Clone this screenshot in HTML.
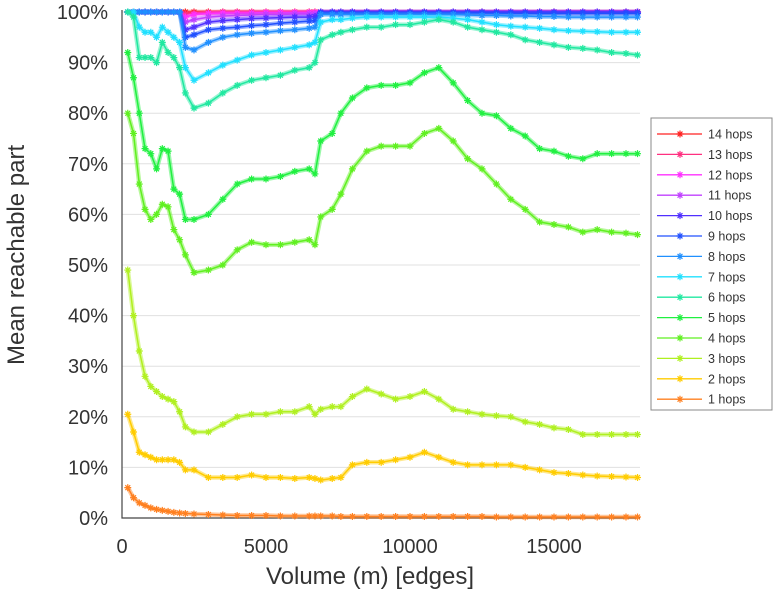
<!DOCTYPE html>
<html><head><meta charset="utf-8"><style>
body{margin:0;background:#fff;}
svg{display:block;font-family:"Liberation Sans",sans-serif;}
</style></head><body>
<svg id="chart" width="775" height="600"></svg>
<script>
const xs=[200,400,600,800,1000,1200,1400,1600,1800,2000,2200,2500,3000,3500,4000,4500,5000,5500,6000,6500,6700,6900,7300,7600,8000,8500,9000,9500,10000,10500,11000,11500,12000,12500,13000,13500,14000,14500,15000,15500,16000,16500,17000,17500,17900];
const s1=[6,4,3,2.5,2,1.7,1.5,1.3,1.1,1,0.9,0.8,0.7,0.6,0.5,0.5,0.5,0.4,0.4,0.4,0.4,0.4,0.4,0.3,0.3,0.3,0.3,0.3,0.3,0.3,0.3,0.3,0.3,0.3,0.2,0.2,0.2,0.2,0.2,0.2,0.2,0.2,0.2,0.2,0.2];
const s2=[20.5,17,13,12.5,12,11.5,11.5,11.5,11.5,11,9.5,9.5,8,8,8,8.5,8,8,7.8,8,7.8,7.5,7.8,8,10.5,11,11,11.5,12,13,12,11,10.5,10.5,10.5,10.5,10,9.5,9,8.8,8.5,8.3,8.2,8.1,8];
const s3=[49,40,33,28,26,25,24,23.5,23,21,18,17,17,18.5,20,20.5,20.5,21,21,22,20.5,21.5,22,22,24,25.5,24.5,23.5,24,25,23.5,21.5,21,20.5,20.2,20,19,18.5,17.8,17.5,16.5,16.5,16.5,16.5,16.5];
const s4=[80,76,66,61,59,60,62,61.5,57,55,52,48.5,49,50,53,54.5,54,54,54.5,55,54,59.5,61,64,69,72.5,73.5,73.5,73.5,76,77,74.5,71,69,66,63,61,58.5,58,57.5,56.5,57,56.5,56.3,56];
const s5=[92,87,80,73,72,69,73,72.5,65,64,59,59,60,63,66,67,67,67.5,68.5,69,68,74.5,76,80,83,85,85.5,85.5,86,88,89,86,82.5,80,79.5,77,75.5,73,72.5,71.5,71,72,72,72,72];
const s6=[100,99,91,91,91,90,94,92,91,89,84,81,82,84,85.5,86.5,87,87.5,88.5,89,90,94.5,95.5,96,96.5,97,97,97.5,97.5,98,98.5,98,97,96.5,96,95.5,94.5,94,93.5,93,92.8,92.5,92,91.8,91.5];
const s7=[100,100,97,96,96,95,97,96,95,94,89,86.5,88,89.5,90.5,91.5,92,92.5,93,93.5,94,98,98.5,98.5,98.8,99,99,99,99,99,99,98.8,98.5,98,97.5,97.2,97,96.8,96.5,96.3,96.2,96.1,96,96,96];
const s8=[100,100,100,100,100,100,100,100,100,100,93,92.5,94,95,95.5,95.8,96,96.3,96.5,96.8,97,99.5,99.5,99.5,99.5,99.5,99.5,99.5,99.5,99.5,99.5,99.5,99.4,99.3,99.3,99.2,99.2,99.1,99.1,99,99,99,99,99,99];
const s9=[100,100,100,100,100,100,100,100,100,100,95,95.5,96.5,96.8,97,97.3,97.5,97.8,98,98.2,98.3,99.8,99.8,99.8,99.8,99.8,99.8,99.8,99.8,99.8,99.8,99.8,99.8,99.8,99.7,99.7,99.7,99.7,99.7,99.7,99.7,99.7,99.7,99.7,99.7];
const s10=[100,100,100,100,100,100,100,100,100,100,96.5,97,98,98.3,98.5,98.7,98.8,98.9,99,99,99.1,100,100,100,100,100,100,100,100,100,100,100,100,100,100,100,100,100,100,100,100,100,100,100,100];
const s11=[100,100,100,100,100,100,100,100,100,100,98,98.5,99,99.2,99.3,99.4,99.5,99.5,99.6,99.6,99.6,100,100,100,100,100,100,100,100,100,100,100,100,100,100,100,100,100,100,100,100,100,100,100,100];
const s12=[100,100,100,100,100,100,100,100,100,100,99,99.5,99.7,99.8,99.8,99.8,99.9,99.9,99.9,99.9,99.9,100,100,100,100,100,100,100,100,100,100,100,100,100,100,100,100,100,100,100,100,100,100,100,100];
const s13=[100,100,100,100,100,100,100,100,100,100,99.6,99.8,99.9,100,100,100,100,100,100,100,100,100,100,100,100,100,100,100,100,100,100,100,100,100,100,100,100,100,100,100,100,100,100,100,100];
const s14=[100,100,100,100,100,100,100,100,100,100,100,100,100,100,100,100,100,100,100,100,100,100,100,100,100,100,100,100,100,100,100,100,100,100,100,100,100,100,100,100,100,100,100,100,100];
const seriesNames=["14 hops","13 hops","12 hops","11 hops","10 hops","9 hops","8 hops","7 hops","6 hops","5 hops","4 hops","3 hops","2 hops","1 hops"];
const seriesVals=[s14,s13,s12,s11,s10,s9,s8,s7,s6,s5,s4,s3,s2,s1];
const colors=["#ff2020","#ff3080","#ff30ff","#c040ff","#5030ff","#2050ff","#2090ff","#20e0ff","#20e8a0","#20f040","#60f020","#b0f020","#ffcc00","#ff8020"];
const yTicks=[0,10,20,30,40,50,60,70,80,90,100];
const xTicks=[0,5000,10000,15000];

const NS="http://www.w3.org/2000/svg";
const svg=document.getElementById('chart');
const X=v=>122+v*144/5000;
const Y=v=>518-v*5.06;
function mk(t,a,p){const e=document.createElementNS(NS,t);for(const k in a)e.setAttribute(k,a[k]);(p||svg).appendChild(e);return e;}

yTicks.forEach(t=>{
  const g=mk('line',{x1:122,x2:640,y1:Y(t),y2:Y(t),stroke:'#e0e0e0','stroke-width':1});
  
  
  const l=mk('text',{x:108,y:Y(t)+7,'text-anchor':'end','font-size':20,fill:'#333'});
  l.textContent=t+'%';
  
  
});
xTicks.forEach(t=>{
  const l=mk('text',{x:X(t),y:553,'text-anchor':'middle','font-size':20,fill:'#333'});
  l.textContent=t;
  
  
});
const ax=mk('path',{d:'M122,10 V518 H640',fill:'none',stroke:'#444','stroke-width':1.2});



function star(g,x,y,c,r){
  mk('path',{d:`M${x-r},${y}H${x+r}M${x},${y-r}V${y+r}M${x-r*0.7},${y-r*0.7}L${x+r*0.7},${y+r*0.7}M${x-r*0.7},${y+r*0.7}L${x+r*0.7},${y-r*0.7}`,stroke:c,'stroke-width':1.2,fill:'none'},g);
}
seriesVals.forEach((vals,i)=>{
  const g=mk('g',{});
  
  
  const d=vals.map((v,j)=>(j?'L':'M')+X(xs[j]).toFixed(1)+','+Y(v).toFixed(1)).join('');
  mk('path',{d:d,fill:'none',stroke:colors[i],'stroke-width':4.5,'stroke-opacity':0.45,'stroke-linejoin':'round'},g);
  mk('path',{d:d,fill:'none',stroke:colors[i],'stroke-width':1.5,'stroke-linejoin':'round'},g);
  vals.forEach((v,j)=>star(g,X(xs[j]),Y(v),colors[i],3.5));
});

const lg=mk('g',{});


mk('rect',{x:651,y:118,width:121,height:292,fill:'#fff',stroke:'#888','stroke-width':1},lg);
seriesNames.forEach((n,i)=>{
  const y=134+i*20.4;
  const e=mk('g',{},lg);
  
  
  mk('line',{x1:657,x2:702,y1:y,y2:y,stroke:colors[i],'stroke-width':1.3},e);
  star(e,680,y,colors[i],3.5);
  const t=mk('text',{x:708,y:y+4.5,'font-size':12.5,fill:'#333'},e);
  t.textContent=n;
});
</script>
<div style="position:absolute;left:0;top:0;width:775px;height:600px;pointer-events:none">
<div style="position:absolute;left:-82px;top:250px;width:200px;height:30px;transform:rotate(-90deg);font:24px 'Liberation Sans',sans-serif;color:#333;text-align:center;white-space:nowrap;">Mean reachable part</div>
<div style="position:absolute;left:180px;top:563px;width:380px;text-align:center;font:24px 'Liberation Sans',sans-serif;color:#333;">Volume (m) [edges]</div>
</div>
</body></html>
